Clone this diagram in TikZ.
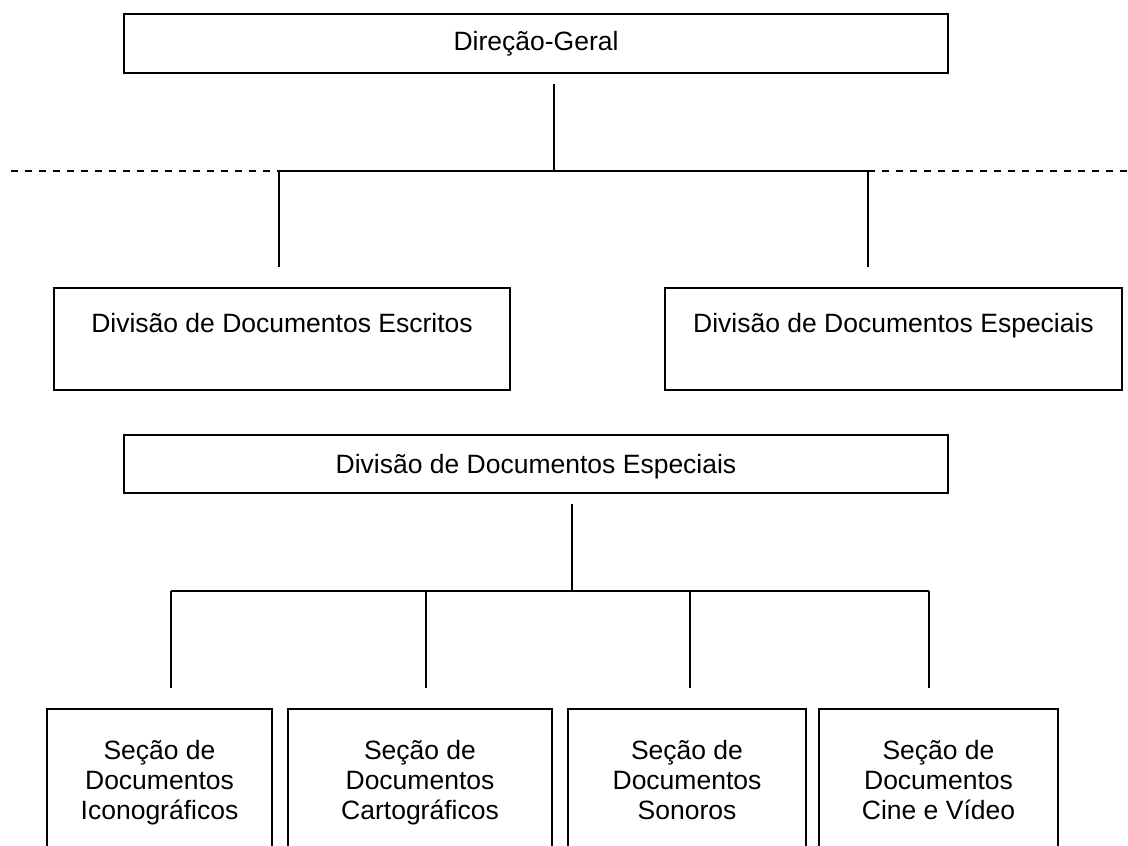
\documentclass[tikz,border=0pt]{standalone}
\usepackage{fontspec}
\setmainfont{Liberation Sans}
\begin{document}
\begin{tikzpicture}[x=1pt,y=-1pt,
  box/.style={draw=black, line width=2pt, inner sep=0pt},
  txt/.style={inner sep=0pt, align=center, font=\fontsize{26.5}{30}\selectfont},
  conn/.style={draw=black, line width=1.6pt},
  dashline/.style={draw=black, line width=1.5pt, dash pattern=on 7pt off 7pt}]
\path[use as bounding box, clip] (0,0) rectangle (1128,846);
% boxes
\node[box, minimum width=824pt, minimum height=59pt] (dg) at (536,43.5) {};
\node[box, minimum width=456pt, minimum height=102pt] (dde) at (282,339) {};
\node[box, minimum width=457pt, minimum height=102pt] (dsp) at (893.5,339) {};
\node[box, minimum width=824pt, minimum height=58pt] (dsp2) at (536,464) {};
\node[box, minimum width=225pt, minimum height=161pt] (s1) at (159.5,789.5) {};
\node[box, minimum width=264pt, minimum height=161pt] (s2) at (420,789.5) {};
\node[box, minimum width=238pt, minimum height=161pt] (s3) at (687,789.5) {};
\node[box, minimum width=239pt, minimum height=161pt] (s4) at (938.5,789.5) {};
% texts
\node[txt] (tdg) at (536,44.5) {\strut Direção-Geral};
\node[txt] (tdde) at (282,326) {\strut Divisão de Documentos Escritos};
\node[txt] (tdsp) at (893.5,326) {\strut Divisão de Documentos Especiais};
\node[txt] (tdsp2) at (536,467.5) {\strut Divisão de Documentos Especiais};
\node[txt] (ts1) at (159.5,783) {\strut Seção de\\Documentos\\Iconográficos\strut};
\node[txt] (ts2) at (420,783) {\strut Seção de\\Documentos\\Cartográficos\strut};
\node[txt] (ts3) at (687,783) {\strut Seção de\\Documentos\\Sonoros\strut};
\node[txt] (ts4) at (938.5,783) {\strut Seção de\\Documentos\\Cine e Vídeo\strut};
% connector points, upper tree
\coordinate (a0) at (554,84);
\coordinate (a1) at (554,171);
\coordinate (bl) at (279,171);
\coordinate (br) at (868,171);
\coordinate (bld) at (279,267);
\coordinate (brd) at (868,267);
\coordinate (dl) at (11,171);
\coordinate (dr) at (1128,171);
\draw[conn] (a0) -- (a1);
\draw[conn] (bl) -- (br);
\draw[conn] (bl) -- (bld);
\draw[conn] (br) -- (brd);
\draw[dashline] (dl) -- (bl);
\draw[dashline] (br) -- (dr);
% lower tree
\coordinate (c0) at (572,504);
\coordinate (c1) at (572,591);
\coordinate (e1) at (171,591);
\coordinate (e2) at (426,591);
\coordinate (e3) at (690,591);
\coordinate (e4) at (929,591);
\coordinate (f1) at (171,688);
\coordinate (f2) at (426,688);
\coordinate (f3) at (690,688);
\coordinate (f4) at (929,688);
\draw[conn] (c0) -- (c1);
\draw[conn] (e1) -- (e4);
\draw[conn] (e1) -- (f1);
\draw[conn] (e2) -- (f2);
\draw[conn] (e3) -- (f3);
\draw[conn] (e4) -- (f4);
\end{tikzpicture}
\end{document}
